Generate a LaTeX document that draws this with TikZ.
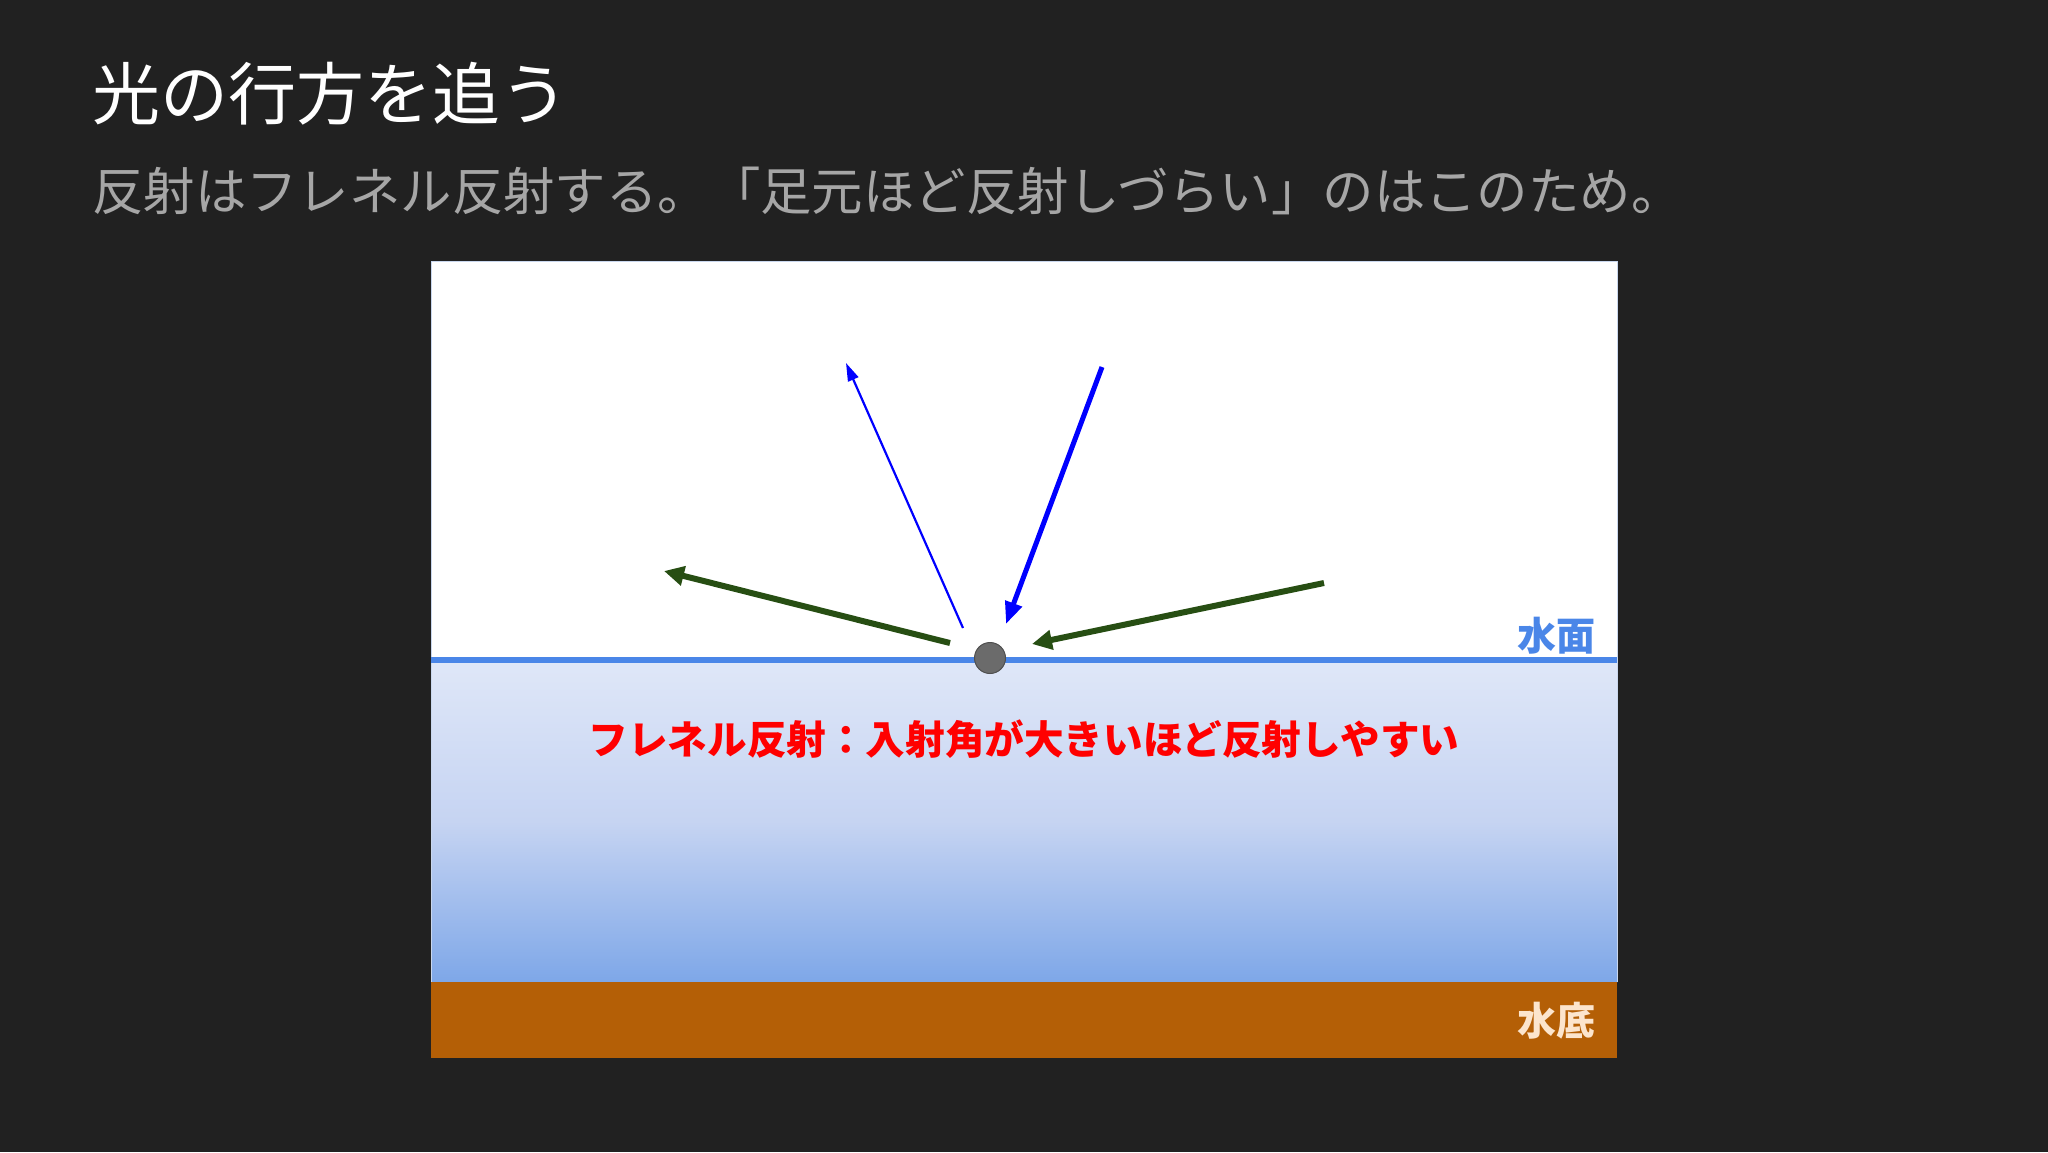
\documentclass[tikz,border=0pt]{standalone}
\usepackage{fontspec}
\setmainfont{Noto Sans CJK JP}
\usetikzlibrary{arrows.meta}
\definecolor{bg}{HTML}{212121}
\definecolor{subgray}{HTML}{A6A6A6}
\definecolor{surfblue}{HTML}{4A86E8}
\definecolor{brownbed}{HTML}{B45F06}
\definecolor{creamtxt}{HTML}{FCE5CD}
\definecolor{arrgreen}{HTML}{274E13}
\definecolor{wtop}{HTML}{DFE7F8}
\definecolor{wmid}{HTML}{C6D4F2}
\definecolor{wbot}{HTML}{7EA7E8}
\definecolor{boxedge}{HTML}{C9D7EE}
\definecolor{dotfill}{HTML}{6B6B6B}
\definecolor{dotedge}{HTML}{4F4F4F}
\tikzset{
  titletxt/.style={anchor=west, inner sep=0pt, text=white, font=\fontsize{68}{72}\selectfont},
  subtxt/.style={anchor=west, inner sep=0pt, text=subgray, font=\fontsize{51.4}{56}\selectfont},
  labeltxt/.style={anchor=east, inner sep=0pt, font=\bfseries\fontsize{39}{42}\selectfont},
  redtxt/.style={inner sep=0pt, text=red, font=\bfseries\fontsize{39.6}{44}\selectfont},
  bluethin/.style={draw=blue, line width=2.2pt, -{Triangle[length=18pt,width=11pt]}},
  bluethick/.style={draw=blue, line width=5pt, -{Triangle[length=22pt,width=17pt]}},
  greenarr/.style={draw=arrgreen, line width=6pt, -{Triangle[length=20pt,width=19pt]}},
}
\begin{document}
\begin{tikzpicture}[x=1pt,y=-1pt]
\fill[bg] (0,0) rectangle (2048,1152);
\useasboundingbox (0,0) rectangle (2048,1152);
% panel
\fill[white] (431,261) rectangle (1617,660);
\shade[top color=wtop, bottom color=wbot, middle color=wmid] (431,660) rectangle (1617,982);
\fill[brownbed] (431,982) rectangle (1617,1058);
\draw[boxedge, line width=1pt] (431,982) -- (431,261) -- (1617,261) -- (1617,982);
\draw[surfblue, line width=6.5pt] (431,660) -- (1617,660);
% texts
\node[titletxt] (title) at (92,94) {光の行方を追う};
\node[subtxt] (sub) at (92,191) {反射はフレネル反射する。「足元ほど反射しづらい」のはこのため。};
\node[labeltxt, text=surfblue] (surf) at (1596,636) {水面};
\node[labeltxt, text=creamtxt] (bed) at (1596,1021) {水底};
\node[redtxt] (fres) at (1024,739) {フレネル反射：入射角が大きいほど反射しやすい};
% arrows
\coordinate (b1s) at (963,628);
\coordinate (b1e) at (846,363);
\coordinate (b2s) at (1102,367);
\coordinate (b2e) at (1006,624);
\coordinate (g1s) at (950,643);
\coordinate (g1e) at (664,571);
\coordinate (g2s) at (1324,583);
\coordinate (g2e) at (1032,644);
\draw[bluethin] (b1s) -- (b1e);
\draw[bluethick] (b2s) -- (b2e);
\draw[greenarr] (g1s) -- (g1e);
\draw[greenarr] (g2s) -- (g2e);
\node[circle, fill=dotfill, draw=dotedge, line width=1pt, minimum size=31pt, inner sep=0pt] (dot) at (990,658) {};
\end{tikzpicture}
\end{document}
